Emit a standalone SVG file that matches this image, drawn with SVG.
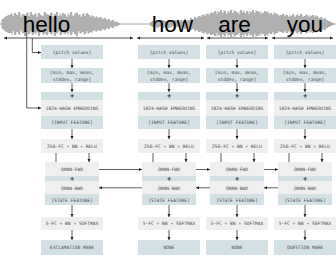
<svg xmlns="http://www.w3.org/2000/svg" width="336" height="265" viewBox="0 0 336 265">
<style>
.teal{fill:#d3e1e4}
.gray{fill:#efefef}
.t{font-family:"DejaVu Sans Mono","Liberation Mono",monospace;font-size:4.6px;fill:#4a4a4a;text-anchor:middle}
.p{font-family:"DejaVu Sans Mono","Liberation Mono",monospace;font-size:7px;fill:#333;text-anchor:middle;font-weight:bold}
.w{font-family:"Liberation Sans",Arial,sans-serif;font-size:22.5px;fill:#000}
.c{fill:none;stroke:#333;stroke-width:0.8}
.tl{fill:none;stroke:#222;stroke-width:0.8}
</style>
<defs>
<marker id="ah" viewBox="0 0 6 6" refX="6" refY="3" markerWidth="3.2" markerHeight="3.2" orient="auto-start-reverse" markerUnits="userSpaceOnUse">
<path d="M0 0L6 3L0 6z" fill="#222"/>
</marker>
</defs>

<g id="waveform" stroke="#9c9c9c" stroke-width="1.6" fill="none">
<path d="M0 24H4M120 24H152M324 24H336" stroke-width="0.9"/>
<path d="M3 19V29M5 17V31M7 16V32M9 15V33
M11 14V33M13 16V31M15 13V35M17 15V32M19 12V34M21 17V30M23 14V33M25 15V36M27 13V32M29 16V34M31 12V31M33 15V35M35 14V33M37 17V32M39 13V36M41 15V31M43 16V34M45 12V33M47 14V35M49 15V30M51 13V34M53 17V32M55 14V36M57 12V33M59 16V31M61 15V35M63 13V32M65 14V34M67 17V33M69 15V31M71 12V35M73 16V32M75 14V34M77 13V36M79 15V31M81 17V33M83 14V32M85 16V34M87 13V31M89 15V33M91 17V32M93 16V31M95 18V30
M97 17V31M99 18V30M101 17V31M103 19V29M105 18V30M107 20V28M109 19V29M111 21V27M113 20V28M115 22V26M117 22V26M119 23V25
M151 22V26M153 21V27M155 22V26M157 20V28M159 21V27M161 22V26M163 20V28M165 21V27M167 22V26M169 20V28M171 21V27M173 22V26M175 20V28M177 21V27M179 22V26M181 20V28M183 21V27M185 19V29M187 21V27M189 20V28M191 18V30M193 19V29M195 17V31
M197 18V30M199 16V32M201 17V31M203 15V33M205 16V32M207 14V34M209 15V33M211 13V35
M213 13V34M215 11V36M217 14V33M219 12V35M221 10V37M223 13V34M225 11V36M227 14V33M229 12V35M231 10V37M233 13V34M235 11V36M237 12V35M239 14V33M241 10V37M243 12V35M245 13V34M247 11V36M249 14V33M251 12V35M253 10V37M255 13V34M257 11V36M259 12V35M261 14V33M263 13V34M265 11V36M267 12V35M269 14V33M271 13V34M273 15V32M275 13V34M277 14V33M279 16V31M281 15V32M283 14V33M285 16V31
M287 15V33M289 17V31M291 16V32M293 14V34M295 17V31M297 15V33M299 16V32M301 14V34M303 17V31M305 16V32M307 15V33M309 17V31M311 16V32M313 15V33M315 17V31M317 16V32M319 18V30M321 17V31M323 19V29M325 18V30
M327 20V28M329 21V27M331 22V26M333 23V25"/>
<path d="M2 20V28M4 18V30M6 16V32M8 15V33M10 16V32M12 13V35M14 15V33M16 14V34M18 16V32M20 13V35M22 15V32M24 14V34M26 16V31M28 12V35M30 15V33M32 14V34M34 16V32M36 13V35M38 15V33M40 14V34M42 16V31M44 13V35M46 15V33M48 14V34M50 16V32M52 12V35M54 15V33M56 14V34M58 16V32M60 13V35M62 15V33M64 14V34M66 16V31M68 13V35M70 15V33M72 14V34M74 16V32M76 12V35M78 15V33M80 14V34M82 16V32M84 13V35M86 15V33M88 14V34M90 16V31M92 15V33M94 17V31M96 16V32M98 18V30M100 17V31M102 19V29M104 18V30M106 20V28M108 19V29M110 21V27M112 20V28M114 22V26M116 21V27M118 23V25
M198 17V31M200 16V32M202 15V33M204 14V34M206 15V33M208 13V35M210 14V34M212 12V35M214 13V35M216 12V36M218 11V36M220 13V34M222 12V35M224 10V37M226 13V34M228 11V36M230 12V35M232 13V34M234 10V37M236 12V35M238 13V34M240 11V36M242 12V35M244 10V37M246 13V34M248 12V35M250 11V36M252 13V34M254 12V35M256 10V37M258 13V34M260 11V36M262 12V35M264 14V33M266 13V34M268 11V36M270 13V34M272 14V33M274 12V35M276 15V32M278 14V33M280 15V32M282 16V31M284 15V32M286 14V33M288 16V32M290 15V33M292 17V31M294 15V33M296 16V32M298 14V34M300 17V31M302 15V33M304 16V32M306 14V34M308 16V32M310 15V33M312 17V31M314 16V32M316 15V33M318 17V31M320 18V30M322 17V31M324 19V29M326 20V28M328 21V27M330 22V26M332 23V25" stroke="#b0b0b0" stroke-width="1"/>
</g>

<g id="words">
<text class="w" x="22.7" y="31.5">hello</text>
<text class="w" x="151.7" y="31.5">how</text>
<text class="w" x="218.3" y="31.5">are</text>
<text class="w" x="286.7" y="31.5">you</text>
</g>

<g id="connectors">
<path class="tl" d="M4 38H133" marker-start="url(#ah)" marker-end="url(#ah)"/>
<path class="tl" d="M137 38H204" marker-start="url(#ah)" marker-end="url(#ah)"/>
<path class="tl" d="M207 38H268" marker-start="url(#ah)" marker-end="url(#ah)"/>
<path class="tl" d="M272 38H333" marker-start="url(#ah)" marker-end="url(#ah)"/>
<path class="c" d="M26.7 31V108H41" marker-end="url(#ah)"/>
<path class="c" d="M32.3 38V52.5H41" marker-end="url(#ah)"/>
<path class="c" d="M72 59V68" marker-end="url(#ah)"/>
<path class="c" d="M72 83V92" marker-end="url(#ah)"/>
<path class="c" d="M72 129V139" marker-end="url(#ah)"/>
<path class="c" d="M89 153V162" marker-end="url(#ah)"/>
<path class="c" d="M56 153V181" marker-end="url(#ah)"/>
<path class="c" d="M72 205V217" marker-end="url(#ah)"/>
<path class="c" d="M72 230V240" marker-end="url(#ah)"/>
<path class="c" d="M169 59V68" marker-end="url(#ah)"/>
<path class="c" d="M169 83V92" marker-end="url(#ah)"/>
<path class="c" d="M169 129V139" marker-end="url(#ah)"/>
<path class="c" d="M186 153V162" marker-end="url(#ah)"/>
<path class="c" d="M153 153V181" marker-end="url(#ah)"/>
<path class="c" d="M169 205V217" marker-end="url(#ah)"/>
<path class="c" d="M169 230V240" marker-end="url(#ah)"/>
<path class="c" d="M237 59V68" marker-end="url(#ah)"/>
<path class="c" d="M237 83V92" marker-end="url(#ah)"/>
<path class="c" d="M237 129V139" marker-end="url(#ah)"/>
<path class="c" d="M254 153V162" marker-end="url(#ah)"/>
<path class="c" d="M221 153V181" marker-end="url(#ah)"/>
<path class="c" d="M237 205V217" marker-end="url(#ah)"/>
<path class="c" d="M237 230V240" marker-end="url(#ah)"/>
<path class="c" d="M305 59V68" marker-end="url(#ah)"/>
<path class="c" d="M305 83V92" marker-end="url(#ah)"/>
<path class="c" d="M305 129V139" marker-end="url(#ah)"/>
<path class="c" d="M322 153V162" marker-end="url(#ah)"/>
<path class="c" d="M289 153V181" marker-end="url(#ah)"/>
<path class="c" d="M305 205V217" marker-end="url(#ah)"/>
<path class="c" d="M305 230V240" marker-end="url(#ah)"/>
<path class="c" d="M99 169.5H142" marker-end="url(#ah)"/>
<path class="c" d="M196 169.5H210" marker-end="url(#ah)"/>
<path class="c" d="M264 169.5H278" marker-end="url(#ah)"/>
<path class="c" d="M142 187.8H99" marker-end="url(#ah)"/>
<path class="c" d="M210 187.8H196" marker-end="url(#ah)"/>
<path class="c" d="M278 187.8H264" marker-end="url(#ah)"/>
</g>

<g id="c1-pitch"><rect class="teal" x="41" y="45" width="62" height="14"/><text class="t" x="72" y="53.7">[pitch values]</text></g>
<g id="c1-stats"><rect class="teal" x="41" y="68" width="62" height="15"/><text class="t" x="72" y="74.2">[min, max, mean,</text><text class="t" x="72" y="80.5">stddev, range]</text></g>
<g id="c1-embed"><rect class="teal" x="41" y="92" width="62" height="8"/><rect class="gray" x="41" y="100" width="62" height="16"/><rect class="teal" x="41" y="116" width="62" height="13"/><text class="p" x="72" y="98.3">+</text><text class="t" x="72" y="110">1024-HASH EMBEDDING</text><text class="t" x="72" y="123.7">[INPUT FEATURE]</text></g>
<g id="c1-fc"><rect class="gray" x="41" y="139" width="62" height="14"/><text class="t" x="72" y="148">256-FC + BN + RELU</text></g>
<g id="c1-qrnn"><rect class="gray" x="45" y="162" width="54" height="14"/><rect class="teal" x="45" y="176" width="54" height="5"/><rect class="gray" x="45" y="181" width="54" height="13"/><rect class="teal" x="45" y="194" width="54" height="11"/><text class="t" x="72" y="170.7">QRNN-FWD</text><text class="p" x="72" y="180.6">+</text><text class="t" x="72" y="189.5">QRNN-BWD</text><text class="t" x="72" y="201.7">[STATE FEATURE]</text></g>
<g id="c1-soft"><rect class="gray" x="41" y="217" width="62" height="13"/><text class="t" x="72" y="225.1">5-FC + BN + SOFTMAX</text></g>
<g id="c1-out"><rect class="teal" x="41" y="240" width="62" height="15"/><text class="t" x="72" y="249.4">EXCLAMATION MARK</text></g>

<g id="c2-pitch"><rect class="teal" x="138" y="45" width="62" height="14"/><text class="t" x="169" y="53.7">[pitch values]</text></g>
<g id="c2-stats"><rect class="teal" x="138" y="68" width="62" height="15"/><text class="t" x="169" y="74.2">[min, max, mean,</text><text class="t" x="169" y="80.5">stddev, range]</text></g>
<g id="c2-embed"><rect class="teal" x="138" y="92" width="62" height="8"/><rect class="gray" x="138" y="100" width="62" height="16"/><rect class="teal" x="138" y="116" width="62" height="13"/><text class="p" x="169" y="98.3">+</text><text class="t" x="169" y="110">1024-HASH EMBEDDING</text><text class="t" x="169" y="123.7">[INPUT FEATURE]</text></g>
<g id="c2-fc"><rect class="gray" x="138" y="139" width="62" height="14"/><text class="t" x="169" y="148">256-FC + BN + RELU</text></g>
<g id="c2-qrnn"><rect class="gray" x="142" y="162" width="54" height="14"/><rect class="teal" x="142" y="176" width="54" height="5"/><rect class="gray" x="142" y="181" width="54" height="13"/><rect class="teal" x="142" y="194" width="54" height="11"/><text class="t" x="169" y="170.7">QRNN-FWD</text><text class="p" x="169" y="180.6">+</text><text class="t" x="169" y="189.5">QRNN-BWD</text><text class="t" x="169" y="201.7">[STATE FEATURE]</text></g>
<g id="c2-soft"><rect class="gray" x="138" y="217" width="62" height="13"/><text class="t" x="169" y="225.1">5-FC + BN + SOFTMAX</text></g>
<g id="c2-out"><rect class="teal" x="138" y="240" width="62" height="15"/><text class="t" x="169" y="249.4">NONE</text></g>

<g id="c3-pitch"><rect class="teal" x="206" y="45" width="62" height="14"/><text class="t" x="237" y="53.7">[pitch values]</text></g>
<g id="c3-stats"><rect class="teal" x="206" y="68" width="62" height="15"/><text class="t" x="237" y="74.2">[min, max, mean,</text><text class="t" x="237" y="80.5">stddev, range]</text></g>
<g id="c3-embed"><rect class="teal" x="206" y="92" width="62" height="8"/><rect class="gray" x="206" y="100" width="62" height="16"/><rect class="teal" x="206" y="116" width="62" height="13"/><text class="p" x="237" y="98.3">+</text><text class="t" x="237" y="110">1024-HASH EMBEDDING</text><text class="t" x="237" y="123.7">[INPUT FEATURE]</text></g>
<g id="c3-fc"><rect class="gray" x="206" y="139" width="62" height="14"/><text class="t" x="237" y="148">256-FC + BN + RELU</text></g>
<g id="c3-qrnn"><rect class="gray" x="210" y="162" width="54" height="14"/><rect class="teal" x="210" y="176" width="54" height="5"/><rect class="gray" x="210" y="181" width="54" height="13"/><rect class="teal" x="210" y="194" width="54" height="11"/><text class="t" x="237" y="170.7">QRNN-FWD</text><text class="p" x="237" y="180.6">+</text><text class="t" x="237" y="189.5">QRNN-BWD</text><text class="t" x="237" y="201.7">[STATE FEATURE]</text></g>
<g id="c3-soft"><rect class="gray" x="206" y="217" width="62" height="13"/><text class="t" x="237" y="225.1">5-FC + BN + SOFTMAX</text></g>
<g id="c3-out"><rect class="teal" x="206" y="240" width="62" height="15"/><text class="t" x="237" y="249.4">NONE</text></g>

<g id="c4-pitch"><rect class="teal" x="274" y="45" width="62" height="14"/><text class="t" x="305" y="53.7">[pitch values]</text></g>
<g id="c4-stats"><rect class="teal" x="274" y="68" width="62" height="15"/><text class="t" x="305" y="74.2">[min, max, mean,</text><text class="t" x="305" y="80.5">stddev, range]</text></g>
<g id="c4-embed"><rect class="teal" x="274" y="92" width="62" height="8"/><rect class="gray" x="274" y="100" width="62" height="16"/><rect class="teal" x="274" y="116" width="62" height="13"/><text class="p" x="305" y="98.3">+</text><text class="t" x="305" y="110">1024-HASH EMBEDDING</text><text class="t" x="305" y="123.7">[INPUT FEATURE]</text></g>
<g id="c4-fc"><rect class="gray" x="274" y="139" width="62" height="14"/><text class="t" x="305" y="148">256-FC + BN + RELU</text></g>
<g id="c4-qrnn"><rect class="gray" x="278" y="162" width="54" height="14"/><rect class="teal" x="278" y="176" width="54" height="5"/><rect class="gray" x="278" y="181" width="54" height="13"/><rect class="teal" x="278" y="194" width="54" height="11"/><text class="t" x="305" y="170.7">QRNN-FWD</text><text class="p" x="305" y="180.6">+</text><text class="t" x="305" y="189.5">QRNN-BWD</text><text class="t" x="305" y="201.7">[STATE FEATURE]</text></g>
<g id="c4-soft"><rect class="gray" x="274" y="217" width="62" height="13"/><text class="t" x="305" y="225.1">5-FC + BN + SOFTMAX</text></g>
<g id="c4-out"><rect class="teal" x="274" y="240" width="62" height="15"/><text class="t" x="305" y="249.4">QUESTION MARK</text></g>
</svg>
